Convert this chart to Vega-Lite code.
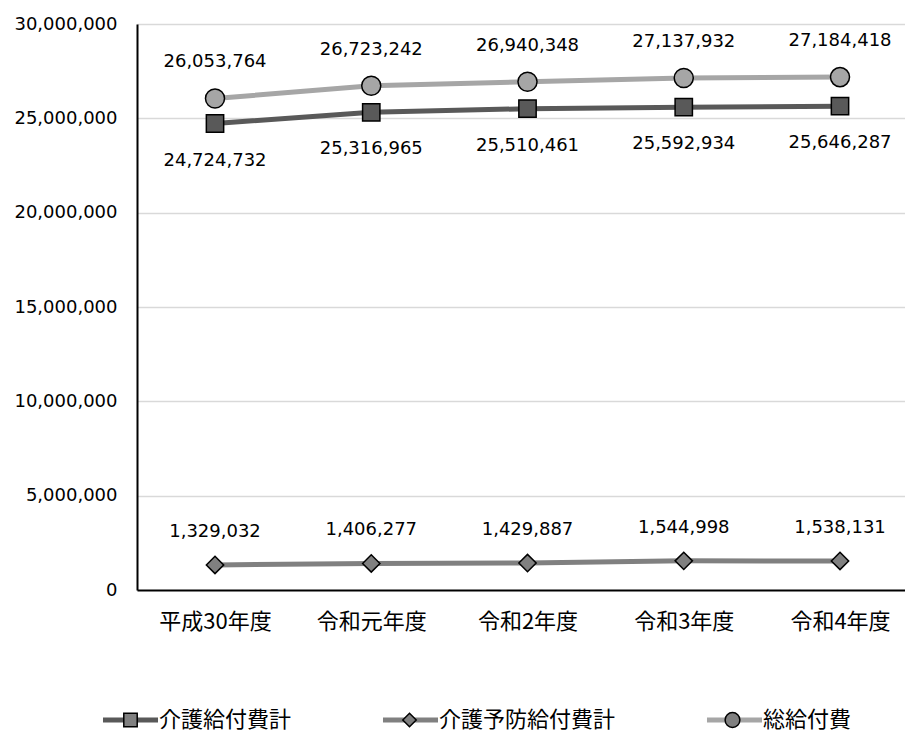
{
  "$schema": "https://vega.github.io/schema/vega-lite/v6.json",
  "width": 768,
  "height": 566,
  "autosize": {"type": "none"},
  "padding": {"left": 137, "top": 24, "right": 0, "bottom": 143},
  "background": "white",
  "config": {"view": {"stroke": null}, "font": "DejaVu Sans"},
  "data": {
    "values": [
      {"year": "平成30年度", "series": "介護給付費計", "value": 24724732},
      {"year": "令和元年度", "series": "介護給付費計", "value": 25316965},
      {"year": "令和2年度", "series": "介護給付費計", "value": 25510461},
      {"year": "令和3年度", "series": "介護給付費計", "value": 25592934},
      {"year": "令和4年度", "series": "介護給付費計", "value": 25646287},
      {"year": "平成30年度", "series": "介護予防給付費計", "value": 1329032},
      {"year": "令和元年度", "series": "介護予防給付費計", "value": 1406277},
      {"year": "令和2年度", "series": "介護予防給付費計", "value": 1429887},
      {"year": "令和3年度", "series": "介護予防給付費計", "value": 1544998},
      {"year": "令和4年度", "series": "介護予防給付費計", "value": 1538131},
      {"year": "平成30年度", "series": "総給付費", "value": 26053764},
      {"year": "令和元年度", "series": "総給付費", "value": 26723242},
      {"year": "令和2年度", "series": "総給付費", "value": 26940348},
      {"year": "令和3年度", "series": "総給付費", "value": 27137932},
      {"year": "令和4年度", "series": "総給付費", "value": 27184418}
    ]
  },
  "encoding": {
    "x": {
      "field": "year",
      "type": "ordinal",
      "sort": ["平成30年度", "令和元年度", "令和2年度", "令和3年度", "令和4年度"],
      "scale": {"type": "point", "padding": 0.4576, "align": 0.5455},
      "axis": {
        "title": null,
        "labelAngle": 0,
        "labelFont": "Noto Sans CJK JP",
        "labelFontSize": 22,
        "labelColor": "#000",
        "labelPadding": 21,
        "domain": false,
        "ticks": false,
        "tickSize": 0,
        "grid": false
      }
    },
    "y": {
      "field": "value",
      "type": "quantitative",
      "scale": {"domain": [0, 30000000]},
      "axis": {
        "title": null,
        "values": [0, 5000000, 10000000, 15000000, 20000000, 25000000, 30000000],
        "format": ",d",
        "labelFont": "DejaVu Sans",
        "labelFontSize": 18,
        "labelColor": "#000",
        "labelPadding": 20,
        "ticks": false,
        "tickSize": 0,
        "domainColor": "#000",
        "domainWidth": 2,
        "gridColor": {"condition": {"test": "datum.value === 0", "value": "#000"}, "value": "#d9d9d9"},
        "gridWidth": {"condition": {"test": "datum.value === 0", "value": 2}, "value": 1.5}
      }
    }
  },
  "layer": [
    {
      "mark": {"type": "line", "strokeWidth": 5},
      "encoding": {
        "color": {
          "field": "series",
          "type": "nominal",
          "scale": {
            "domain": ["介護給付費計", "介護予防給付費計", "総給付費"],
            "range": ["#595959", "#808080", "#a6a6a6"]
          },
          "legend": {
            "orient": "none",
            "legendX": -36.5,
            "legendY": 685,
            "direction": "horizontal",
            "columns": 3,
            "title": null,
            "padding": 0,
            "symbolType": "M-4.1,0H4.1",
            "symbolSize": 180,
            "symbolStrokeWidth": 5,
            "symbolFillColor": "transparent",
            "symbolOffset": 19,
            "labelOffset": 17.5,
            "columnPadding": 81,
            "labelFont": "Noto Sans CJK JP",
            "labelFontSize": 22,
            "labelColor": "#000",
            "labelLimit": 400
          }
        }
      }
    },
    {
      "mark": {"type": "point", "filled": true, "stroke": "#000", "strokeWidth": 1.5, "opacity": 1, "size": 300},
      "encoding": {
        "shape": {
          "field": "series",
          "type": "nominal",
          "sort": ["介護給付費計", "介護予防給付費計", "総給付費"],
          "scale": {
            "range": [
              "M-1,-1H1V1H-1ZM-4.1,0L-4.1,0M4.1,0L4.1,0",
              "M-1,0L0,-1L1,0L0,1ZM-4.1,0L-4.1,0M4.1,0L4.1,0",
              "M-1.1,0A1.1,1.1,0,1,0,1.1,0A1.1,1.1,0,1,0,-1.1,0ZM-4.1,0L-4.1,0M4.1,0L4.1,0"
            ]
          },
          "legend": {
            "orient": "none",
            "legendX": -36.5,
            "legendY": 685,
            "direction": "horizontal",
            "columns": 3,
            "title": null,
            "padding": 0,
            "symbolSize": 180,
            "symbolOffset": 19,
            "symbolFillColor": "#808080",
            "symbolStrokeColor": "#000",
            "symbolStrokeWidth": 1.5,
            "labelOffset": 23,
            "labelOpacity": 0,
            "columnPadding": 81,
            "labelFont": "Noto Sans CJK JP",
            "labelFontSize": 22,
            "labelLimit": 400
          }
        },
        "fill": {
          "field": "series",
          "type": "nominal",
          "sort": ["介護給付費計", "介護予防給付費計", "総給付費"],
          "scale": {"range": ["#595959", "#808080", "#a6a6a6"]}
        }
      }
    },
    {
      "transform": [{"filter": "datum.series === '総給付費'"}],
      "mark": {"type": "text", "dy": -36, "fontSize": 18, "font": "DejaVu Sans", "fill": "#000"},
      "encoding": {"text": {"field": "value", "type": "quantitative", "format": ","}}
    },
    {
      "transform": [{"filter": "datum.series === '介護給付費計'"}],
      "mark": {"type": "text", "dy": 37, "fontSize": 18, "font": "DejaVu Sans", "fill": "#000"},
      "encoding": {"text": {"field": "value", "type": "quantitative", "format": ","}}
    },
    {
      "transform": [{"filter": "datum.series === '介護予防給付費計'"}],
      "mark": {"type": "text", "dy": -33, "fontSize": 18, "font": "DejaVu Sans", "fill": "#000"},
      "encoding": {"text": {"field": "value", "type": "quantitative", "format": ","}}
    }
  ]
}
